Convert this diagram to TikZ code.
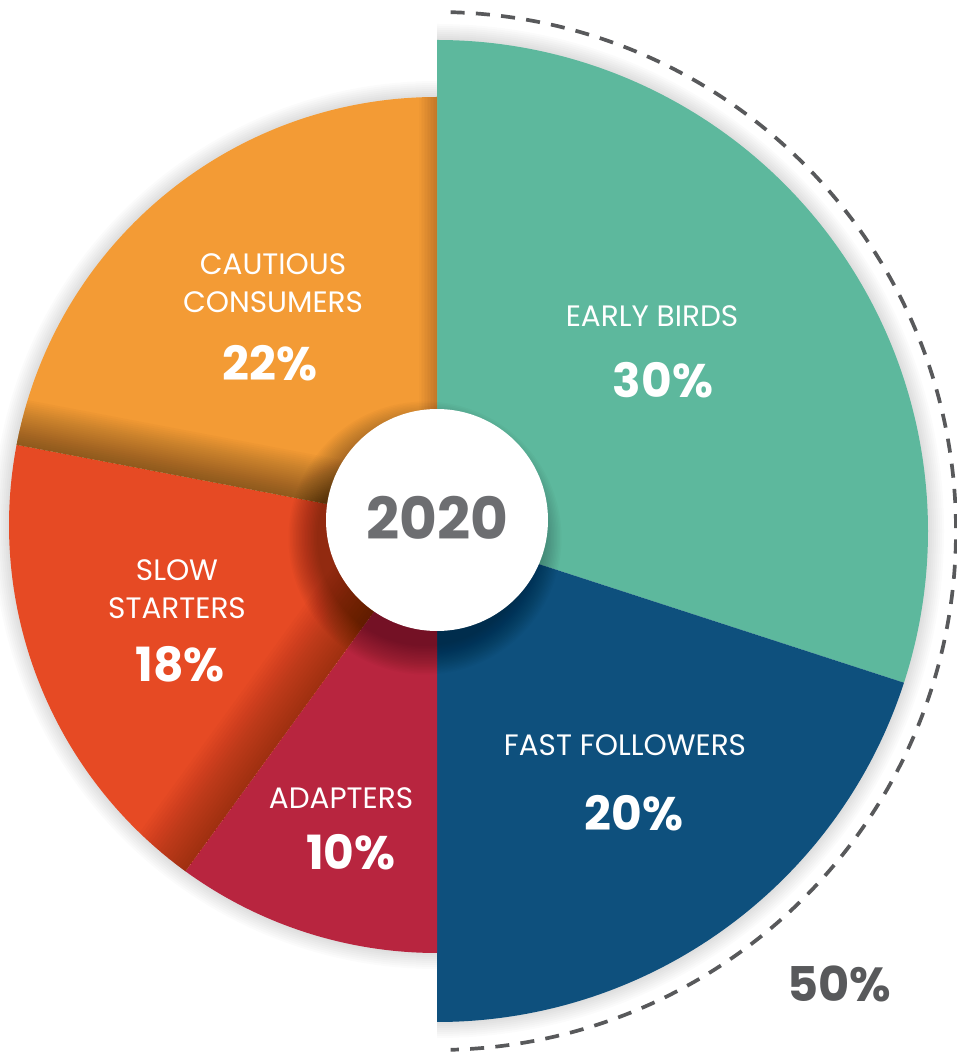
\documentclass[tikz,border=0pt]{standalone}
\usepackage{fontspec}
\setmainfont{Poppins}
\definecolor{tealA}{HTML}{5DB89D}
\definecolor{navyA}{HTML}{0E507D}
\definecolor{crimA}{HTML}{B8253F}
\definecolor{redA}{HTML}{E64A24}
\definecolor{orngA}{HTML}{F39B35}
\definecolor{txtgray}{HTML}{6D6E71}
\definecolor{dashgray}{HTML}{58595B}
\tikzset{
  lab/.style={text=white, align=center, inner sep=0pt, font=\fontsize{8.4}{10.8}\selectfont},
  pct/.style={text=white, inner sep=0pt, font=\fontsize{13.4}{15}\selectfont\bfseries},
  yearlab/.style={text=txtgray, inner sep=0pt, font=\fontsize{16.5}{18}\selectfont\bfseries},
  fiftylab/.style={text=dashgray, inner sep=0pt, font=\fontsize{13.6}{15}\selectfont\bfseries},
  shadowstep/.style={fill=black, opacity=0.018},
}
\begin{document}
\begin{tikzpicture}[x=0.01cm,y=0.01cm]
\useasboundingbox (0,0) rectangle (956,1054);
\fill[white] (0,0) rectangle (956,1054);
\coordinate (CR) at (437,523);
\coordinate (CL) at (437,529);
\coordinate (CC) at (437,534);
% outer soft shadow
\foreach \d in {2,4,...,16}{
  \pgfmathsetmacro\rr{491+\d}
  \pgfmathsetmacro\rl{428+\d}
  \fill[black,opacity=0.016] (CR) -- ++(90:\rr) arc[start angle=90,end angle=-90,radius=\rr] -- cycle;
  \fill[black,opacity=0.016] (CL) -- ++(90:\rl) arc[start angle=90,end angle=270,radius=\rl] -- cycle;
}
% slices
\fill[tealA] (CR) -- ++(90:491) arc[start angle=90,end angle=-18,radius=491] -- cycle;
\fill[navyA] (CR) -- ++(-18:491) arc[start angle=-18,end angle=-90,radius=491] -- cycle;
\fill[crimA] (CL) -- ++(-90:428) arc[start angle=-90,end angle=-126,radius=428] -- cycle;
\fill[redA] (CL) -- ++(-126:428) arc[start angle=-126,end angle=-190.8,radius=428] -- cycle;
\fill[orngA] (CL) -- ++(-190.8:428) arc[start angle=-190.8,end angle=-270,radius=428] -- cycle;
% inner shading of orange slice
\begin{scope}
  \clip (CL) -- ++(-190.8:428) arc[start angle=-190.8,end angle=-270,radius=428] -- cycle;
  \begin{scope}[shift={(437,529)}, rotate=169.2]
    \foreach \w in {2,4,...,46} \fill[shadowstep] (-10,0) rectangle (450,-\w);
  \end{scope}
  \foreach \w in {1.5,3,...,18} \fill[black,opacity=0.014] ({437-\w},520) rectangle (437,970);
\end{scope}
% inner shading of red slice
\begin{scope}
  \clip (CL) -- ++(-126:428) arc[start angle=-126,end angle=-190.8,radius=428] -- cycle;
  \begin{scope}[shift={(437,529)}, rotate=-126]
    \foreach \w in {3,6,...,60} \fill[black,opacity=0.017] (-10,0) rectangle (450,-\w);
  \end{scope}
\end{scope}
% circle shadow
\foreach \k in {0,...,19}{
  \pgfmathsetmacro\rc{108+1.5*\k}
  \fill[black,opacity=0.018] (425,516) circle[radius=\rc];
}
% centre disc
\fill[white] (CC) circle[radius=111];
\node[yearlab] (yr) at (437,536) {2020};
% labels
\node[lab] (eb) at (652,738) {EARLY BIRDS};
\node[pct] (ebp) at (663,674) {30\%};
\node[lab] (ff) at (625,309) {FAST FOLLOWERS};
\node[pct] (ffp) at (634,241) {20\%};
\node[lab] (ad) at (341,256) {ADAPTERS};
\node[pct] (adp) at (351,202) {10\%};
\node[lab] (ss) at (177,465) {SLOW\\STARTERS};
\node[pct] (ssp) at (180,390) {18\%};
\node[lab] (cc) at (273,771) {CAUTIOUS\\CONSUMERS};
\node[pct] (ccp) at (270,691) {22\%};
% dashed arc and its label
\coordinate (DA) at (437,523);
\draw[dashgray, line width=1.05pt, dash pattern=on 4pt off 3.2pt] (DA) ++(88.5:519) arc[start angle=88.5,end angle=-88.5,radius=519];
\node[fiftylab] (fp) at (839,70) {50\%};
\end{tikzpicture}
\end{document}
